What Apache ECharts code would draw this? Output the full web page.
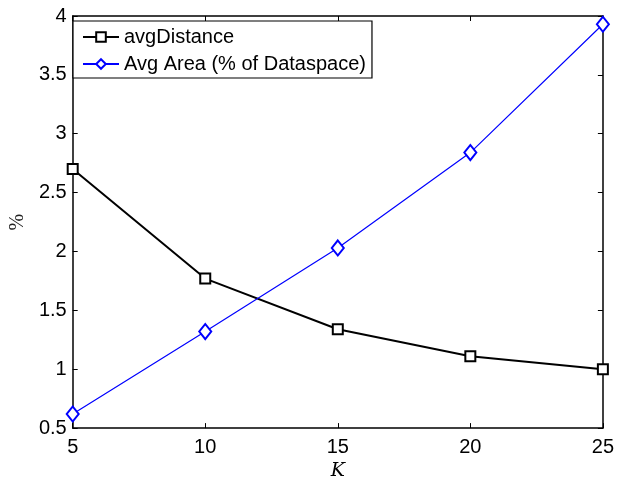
<!DOCTYPE html>
<html><head><meta charset="utf-8">
<script src="https://cdn.jsdelivr.net/npm/echarts@6/dist/echarts.min.js"></script>
<style>html,body{margin:0;padding:0;background:#fff}#c{width:617px;height:486px}</style>
</head><body><div id="c"></div>
<script>
const kValues = [5, 10, 15, 20, 25];
const avgDistance = [2.70, 1.77, 1.34, 1.11, 1.00];
const avgArea = [0.62, 1.32, 2.03, 2.84, 3.93];
const seriesNames = ['avgDistance', 'Avg Area (% of Dataspace)'];
const xTicks = {min: 5, max: 25, interval: 5};
const yTicks = {min: 0.5, max: 4, interval: 0.5};

const chart = echarts.init(document.getElementById('c'), null, {renderer: 'canvas'});
const lblFont = {fontFamily: 'Liberation Sans, Arial, sans-serif', fontSize: 20, color: '#000'};
const axisLine = {show: true, onZero: false, lineStyle: {color: '#000', width: 1.5}};
const tick = {show: true, inside: true, length: 5, lineStyle: {color: '#000', width: 1}};
chart.setOption({
  backgroundColor: '#fff',
  animation: false,
  grid: {left: 69, right: 12, top: 16, bottom: 49, containLabel: false},
  legend: {
    orient: 'vertical', left: 73, top: 21,
    backgroundColor: '#fff', borderColor: '#000', borderWidth: 1.2, borderRadius: 0,
    padding: [5, 6, 3, 9], itemGap: 5, itemWidth: 36, itemHeight: 12,
    textStyle: {fontFamily: 'Liberation Sans, Arial, sans-serif', fontSize: 20, lineHeight: 22, color: '#000'},
    data: seriesNames
  },
  xAxis: [{
    type: 'value', min: xTicks.min, max: xTicks.max, interval: xTicks.interval,
    name: 'K', nameLocation: 'middle', nameGap: 27,
    nameTextStyle: {fontFamily: 'DejaVu Serif, Liberation Serif, serif', fontStyle: 'italic', fontSize: 19, color: '#000'},
    axisLine: axisLine, axisTick: tick,
    axisLabel: Object.assign({margin: 9}, lblFont),
    splitLine: {show: false}
  }, {
    type: 'value', position: 'top', min: xTicks.min, max: xTicks.max, interval: xTicks.interval,
    axisLine: axisLine, axisTick: tick, axisLabel: {show: false}, splitLine: {show: false}
  }],
  yAxis: [{
    type: 'value', min: yTicks.min, max: yTicks.max, interval: yTicks.interval,
    name: '%', nameLocation: 'middle', nameGap: 34, nameRotate: 90,
    nameTextStyle: {fontFamily: 'Liberation Serif, DejaVu Serif, serif', fontSize: 20, color: '#222'},
    axisLine: axisLine, axisTick: tick,
    axisLabel: Object.assign({margin: 6}, lblFont),
    splitLine: {show: false}
  }, {
    type: 'value', position: 'right', min: yTicks.min, max: yTicks.max, interval: yTicks.interval,
    axisLine: axisLine, axisTick: tick, axisLabel: {show: false}, splitLine: {show: false}
  }],
  series: [{
    name: seriesNames[0], type: 'line',
    data: kValues.map((k, i) => [k, avgDistance[i]]),
    symbol: 'emptyRect', symbolSize: 10,
    lineStyle: {color: '#000', width: 2},
    itemStyle: {color: '#000', borderColor: '#000', borderWidth: 1.8},
    z: 3
  }, {
    name: seriesNames[1], type: 'line',
    data: kValues.map((k, i) => [k, avgArea[i]]),
    symbol: 'emptyDiamond', symbolSize: [12, 15],
    lineStyle: {color: '#0000ff', width: 1.2},
    itemStyle: {color: '#0000ff', borderColor: '#0000ff', borderWidth: 1.2},
    z: 4
  }]
});
</script></body></html>
